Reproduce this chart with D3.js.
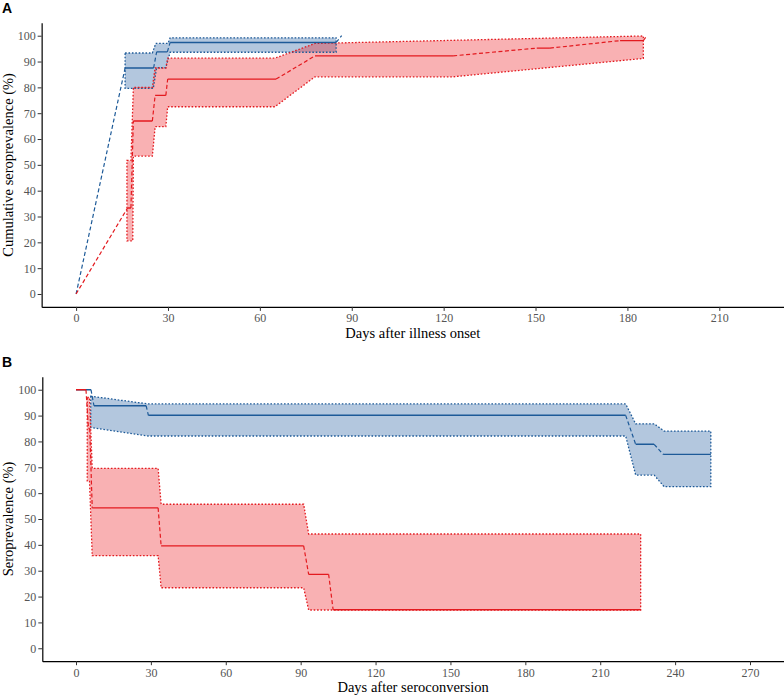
<!DOCTYPE html>
<html>
<head>
<meta charset="utf-8">
<script src="https://cdn.jsdelivr.net/npm/d3@7"></script>
<style>
  html, body { margin: 0; padding: 0; background: #fff; }
  svg { display: block; }
</style>
</head>
<body>
<svg id="chart" width="784" height="695"></svg>
<script>
// ---------------- DATA ----------------
// Panel A: cumulative seroprevalence vs days after illness onset
const aXTicks = [0, 30, 60, 90, 120, 150, 180, 210];
const yTicks = [0, 10, 20, 30, 40, 50, 60, 70, 80, 90, 100];

const aBlueDays = [0, 16.0, 25.3, 26.3, 29.8, 30.7, 84.9, 86.7];
const aBlueVals = [0, 87.5, 87.5, 93.75, 93.75, 97.4, 97.4, 100];
const aBlueUpDays = [16.0, 24.9, 26.0, 30.0, 30.7, 84.9];
const aBlueUpVals = [93.3, 93.3, 97.0, 97.0, 99.2, 99.2];
const aBlueLoDays = [16.0, 25.2, 26.3, 29.3, 30.7, 84.9];
const aBlueLoVals = [79.6, 79.6, 87.6, 87.6, 93.6, 93.6];

const aRedDays = [0, 16.8, 17.9, 18.7, 24.9, 25.8, 29.3, 29.9, 65.3, 78.0, 123.1, 150.4, 154.7, 177.6, 185.2, 186.3];
const aRedVals = [0, 33.3, 33.3, 67.0, 67.0, 76.9, 76.9, 83.2, 83.2, 92.2, 92.2, 95.2, 95.2, 98.1, 98.1, 100];
const aRedUpDays = [16.6, 17.9, 18.7, 24.9, 25.8, 29.3, 29.9, 64.9, 78.0, 185.2];
const aRedUpVals = [51.7, 51.7, 80.0, 80.0, 87.5, 87.5, 91.3, 91.3, 97.0, 99.9];
const aRedLoDays = [16.6, 18.5, 18.7, 24.9, 25.8, 29.3, 29.9, 64.9, 78.0, 123.1, 185.2];
const aRedLoVals = [20.6, 20.6, 53.4, 53.4, 64.8, 64.8, 72.5, 72.5, 84.1, 84.1, 91.2];

// Panel B: seroprevalence vs days after seroconversion
const bXTicks = [0, 30, 60, 90, 120, 150, 180, 210, 240, 270];

const bBlueDays = [0, 6.0, 7.2, 28.1, 29.0, 220.2, 224.2, 231.6, 235.2, 254.3];
const bBlueVals = [100, 100, 93.8, 93.8, 90.1, 90.1, 78.9, 78.9, 75.0, 75.0];
const bBlueUpDays = [5.9, 29.0, 220.2, 224.2, 231.6, 235.6, 254.3];
const bBlueUpVals = [97.5, 94.5, 94.5, 86.8, 86.8, 84.0, 84.0];
const bBlueLoDays = [5.9, 29.0, 220.2, 224.2, 231.6, 235.6, 254.3];
const bBlueLoVals = [85.4, 82.1, 82.1, 67.0, 67.0, 62.5, 62.5];

const bRedDays = [0, 4.0, 5.0, 5.5, 6.5, 32.9, 34.1, 91.2, 93.2, 101.2, 103.0, 226.2];
const bRedVals = [100, 100, 85.0, 85.0, 54.3, 54.3, 39.6, 39.6, 28.6, 28.6, 14.9, 14.9];
const bRedUpDays = [4.5, 5.4, 6.5, 32.9, 34.1, 91.2, 93.2, 226.2];
const bRedUpVals = [97.0, 97.0, 69.6, 69.6, 55.7, 55.7, 44.2, 44.2];
const bRedLoDays = [4.5, 5.4, 6.5, 32.9, 34.1, 91.2, 93.2, 226.2];
const bRedLoVals = [64.8, 64.8, 35.8, 35.8, 23.4, 23.4, 14.8, 14.8];

// ---------------- STYLE ----------------
const blueLine = "#1d5a98";
const redLine = "#e31a1f";
const blueFill = "rgb(38,95,161)";
const redFill = "rgb(238,32,38)";
const fillOpacity = 0.35;

const svg = d3.select("#chart");

function zip(ds, vs) { return ds.map((d, i) => [d, vs[i]]); }

function drawPanel(cfg) {
  const g = svg.append("g");
  // x(0) and x(last tick) fixed in pixels; domain expanded 5% of the limit on both sides
  const pxPerDay = (cfg.xEndPx - cfg.x0Px) / cfg.xLimit;
  const pad = cfg.xLimit * 0.05;
  const xDomain = [-pad, cfg.xLimit + pad];
  const xRange = [cfg.x0Px - pad * pxPerDay, cfg.xEndPx + pad * pxPerDay];
  const x = d3.scaleLinear().domain(xDomain).range(xRange);
  const y = d3.scaleLinear().domain([-5, 105]).range(cfg.yRange);
  const line = d3.line().x(d => x(d[0])).y(d => y(d[1]));

  const defs = svg.append("defs");
  const clipId = "clip" + cfg.id;
  defs.append("clipPath").attr("id", clipId).append("rect")
    .attr("x", xRange[0]).attr("y", cfg.yRange[1])
    .attr("width", 784 - xRange[0]).attr("height", cfg.yRange[0] - cfg.yRange[1]);

  const plot = g.append("g").attr("clip-path", `url(#${clipId})`);

  function bandPts(s) {
    const up = zip(s.upD, s.upV);
    const lo = zip(s.loD, s.loV).reverse();
    return up.concat(lo);
  }
  cfg.series.forEach(s => {
    plot.append("path")
      .attr("d", line(bandPts(s)) + "Z")
      .attr("fill", s.fill).attr("fill-opacity", fillOpacity)
      .attr("stroke", "none");
  });
  cfg.series.forEach(s => {
    plot.append("path")
      .attr("d", line(bandPts(s)) + "Z")
      .attr("fill", "none")
      .attr("stroke", s.color).attr("stroke-width", 1.3)
      .attr("stroke-dasharray", "1.6,1.8");
  });
  cfg.series.forEach(s => {
    const pts = zip(s.days, s.vals);
    for (let i = 0; i < pts.length - 1; i++) {
      const a = pts[i], b = pts[i + 1];
      const flat = a[1] === b[1];
      plot.append("path")
        .attr("d", line([a, b]))
        .attr("fill", "none")
        .attr("stroke", s.color)
        .attr("stroke-width", flat ? 1.4 : 1.2)
        .attr("stroke-dasharray", flat ? null : "4,2.5");
    }
  });

  const xAxis = d3.axisBottom(x).tickValues(cfg.xTicks).tickSize(4).tickPadding(3).tickSizeOuter(0);
  const yAxis = d3.axisLeft(y).tickValues(yTicks).tickSize(4).tickPadding(2).tickSizeOuter(0);

  const gx = g.append("g").attr("transform", `translate(0,${cfg.yRange[0]})`).call(xAxis);
  const gy = g.append("g").attr("transform", `translate(${xRange[0]},0)`).call(yAxis);
  [gx, gy].forEach(ax => {
    ax.select(".domain").attr("stroke", "#000").attr("stroke-width", 1.2);
    ax.selectAll(".tick line").attr("stroke", "#333").attr("stroke-width", 1);
    ax.selectAll(".tick text")
      .attr("fill", "#555")
      .style("font-family", "'Liberation Serif', 'Times New Roman', serif")
      .style("font-size", "12px");
  });

  g.append("text")
    .attr("x", (xRange[0] + 784) / 2)
    .attr("y", cfg.yRange[0] + 31)
    .attr("text-anchor", "middle")
    .style("font-family", "'Liberation Serif', 'Times New Roman', serif")
    .style("font-size", "14.5px")
    .attr("fill", "#000")
    .text(cfg.xTitle);
  g.append("text")
    .attr("transform", `translate(13,${(cfg.yRange[0] + cfg.yRange[1]) / 2}) rotate(-90)`)
    .attr("text-anchor", "middle")
    .style("font-family", "'Liberation Serif', 'Times New Roman', serif")
    .style("font-size", "14.5px")
    .attr("fill", "#000")
    .text(cfg.yTitle);
  g.append("text")
    .attr("x", 2).attr("y", cfg.labelY)
    .style("font-family", "'Liberation Sans', Arial, sans-serif")
    .style("font-weight", "bold")
    .style("font-size", "14px")
    .attr("fill", "#000")
    .text(cfg.label);
}

drawPanel({
  id: "A", label: "A", labelY: 13,
  xLimit: 225, x0Px: 76.1, xEndPx: 76.1 + 225 * (719.3 - 76.1) / 210,
  yRange: [306.9, 22.8],
  xTicks: aXTicks,
  xTitle: "Days after illness onset",
  yTitle: "Cumulative seroprevalence (%)",
  series: [
    { color: blueLine, fill: blueFill, days: aBlueDays, vals: aBlueVals,
      upD: aBlueUpDays, upV: aBlueUpVals, loD: aBlueLoDays, loV: aBlueLoVals },
    { color: redLine, fill: redFill, days: aRedDays, vals: aRedVals,
      upD: aRedUpDays, upV: aRedUpVals, loD: aRedLoDays, loV: aRedLoVals }
  ]
});

drawPanel({
  id: "B", label: "B", labelY: 367,
  xLimit: 270, x0Px: 76, xEndPx: 750,
  yRange: [661.2, 376.8],
  xTicks: bXTicks,
  xTitle: "Days after seroconversion",
  yTitle: "Seroprevalence (%)",
  series: [
    { color: blueLine, fill: blueFill, days: bBlueDays, vals: bBlueVals,
      upD: bBlueUpDays, upV: bBlueUpVals, loD: bBlueLoDays, loV: bBlueLoVals },
    { color: redLine, fill: redFill, days: bRedDays, vals: bRedVals,
      upD: bRedUpDays, upV: bRedUpVals, loD: bRedLoDays, loV: bRedLoVals }
  ]
});
</script>
</body>
</html>
